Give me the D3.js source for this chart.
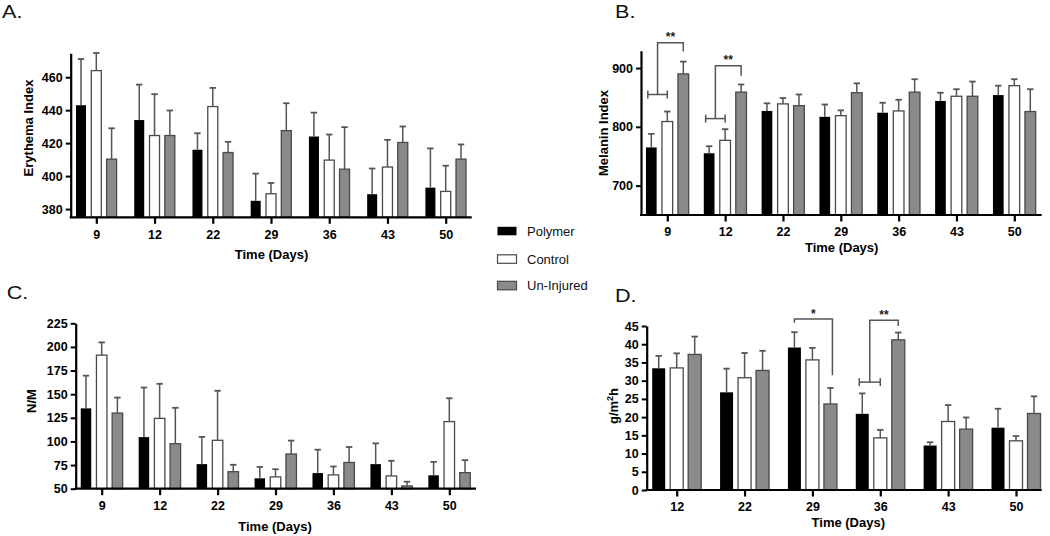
<!DOCTYPE html>
<html><head><meta charset="utf-8">
<script src="https://cdn.jsdelivr.net/npm/d3@7"></script>
<style>
body{margin:0;background:#fff}
svg{display:block}
text{font-family:Arial,"Liberation Sans",Helvetica,sans-serif}
</style>
</head><body>
<svg id="chart" width="1050" height="536"></svg>
<script>
// ---------------- DATA ----------------
const seriesNames = ["Polymer", "Control", "Un-Injured"];
const daysABC = [9, 12, 22, 29, 36, 43, 50];
const daysD = [12, 22, 29, 36, 43, 50];

// A. Erythema Index
const erythemaPolymer    = [443, 434, 416, 385, 424, 389, 393];
const erythemaPolymerErr = [471, 455.5, 426, 401.5, 438.5, 404.6, 416.8];
const erythemaControl    = [464, 424.6, 442.2, 389.3, 409.7, 405.5, 390.7];
const erythemaControlErr = [474.7, 449.7, 453.5, 395.8, 425.2, 422, 406.3];
const erythemaUninj      = [410.3, 424.6, 414.3, 427.6, 404.2, 420.4, 410.3];
const erythemaUninjErr   = [429, 439.8, 420.8, 444.2, 429.7, 430.1, 419.2];
const erythemaTicks = [380, 400, 420, 440, 460];

// B. Melanin Index
const melaninPolymer    = [765, 755, 827, 817, 824, 844, 854];
const melaninPolymerErr = [788, 767, 840, 838, 841, 858, 870];
const melaninControl    = [809, 777, 839, 819, 827, 852, 870];
const melaninControlErr = [826, 796, 849, 828, 846, 864, 881];
const melaninUninj      = [890, 859, 836, 858, 859, 852, 826];
const melaninUninjErr   = [911, 872, 855, 874, 881, 877, 864];
const melaninTicks = [700, 800, 900];
// significance brackets: day, lower bar level, top level, right end, label
const melaninSigDays   = [9, 12];
const melaninSigLow    = [855, 814];
const melaninSigTop    = [943, 904];
const melaninSigRight  = [928, 887];
const melaninSigLabels = ["**", "**"];

// C. N/M
const nmPolymer    = [135, 104.6, 76, 61, 66.5, 76, 64.2];
const nmPolymerErr = [169.6, 157, 104.8, 73, 91.3, 98, 78.4];
const nmControl    = [191.3, 124.4, 101.2, 62.5, 64.6, 63.5, 121];
const nmControlErr = [204.8, 161, 153.6, 70.6, 73.5, 79.5, 145.7];
const nmUninj      = [130, 97.6, 68, 86.7, 77.8, 52.9, 67];
const nmUninjErr   = [146.4, 135.6, 75.3, 100.9, 94.1, 57.4, 80.2];
const nmTicks = [50, 75, 100, 125, 150, 175, 200, 225];

// D. TEWL g/m2h
const tewlPolymer    = [33.4, 26.8, 39.1, 20.9, 12.2, 17.1];
const tewlPolymerErr = [36.8, 33.3, 43.3, 26.5, 13.1, 22.3];
const tewlControl    = [33.5, 30.8, 35.7, 14.3, 18.8, 13.5];
const tewlControlErr = [37.5, 37.6, 39, 16.5, 23.3, 14.8];
const tewlUninj      = [37.2, 32.8, 23.6, 41.2, 16.7, 21];
const tewlUninjErr   = [42.1, 38.2, 28, 43.2, 19.9, 25.7];
const tewlTicks = [0, 5, 10, 15, 20, 25, 30, 35, 40, 45];
// bracket day 29: black (short leg) to gray (long leg)
const tewlSig29 = {day: 29, top: 46.9, leftEnd: 45.9, rightEnd: 31.5, label: "*"};
// bracket day 36: black/control pair to gray
const tewlSig36 = {day: 36, low: 29.6, top: 46.6, rightEnd: 45, label: "**"};

// ---------------- DRAWING ----------------
const svg = d3.select("#chart");
const fills   = ["#000000", "#ffffff", "#8a8a8a"];
const strokes = ["#000000", "#4a4a4a", "#4a4a4a"];
const errColor = "#555555";
const tickFont = 12.5;

function drawPanel(cfg) {
  const g = svg.append("g");
  const y = d3.scaleLinear().domain(cfg.domain).range([cfg.yBot, cfg.yTop]);
  const xc = d3.scalePoint().domain(cfg.days).range([cfg.c0, cfg.c1]);
  const xs = d3.scalePoint().domain(seriesNames).range([-cfg.off, cfg.off]);

  // bars
  seriesNames.forEach((s, si) => {
    const vals = cfg.values[si], errs = cfg.errs[si];
    const gs = g.append("g");
    gs.selectAll("rect").data(cfg.days).join("rect")
      .attr("x", (d) => xc(d) + xs(s) - cfg.bw / 2)
      .attr("y", (d, i) => y(vals[i]))
      .attr("width", cfg.bw)
      .attr("height", (d, i) => y(cfg.domain[0]) - y(vals[i]))
      .attr("fill", fills[si])
      .attr("stroke", strokes[si])
      .attr("stroke-width", si === 0 ? 0 : 1.3);
    gs.selectAll("line.err").data(cfg.days).join("line")
      .attr("class", "err")
      .attr("x1", (d) => xc(d) + xs(s)).attr("x2", (d) => xc(d) + xs(s))
      .attr("y1", (d, i) => y(vals[i])).attr("y2", (d, i) => y(errs[i]))
      .attr("stroke", errColor).attr("stroke-width", 1.5);
    gs.selectAll("line.cap").data(cfg.days).join("line")
      .attr("class", "cap")
      .attr("x1", (d) => xc(d) + xs(s) - 3.2).attr("x2", (d) => xc(d) + xs(s) + 3.2)
      .attr("y1", (d, i) => y(errs[i])).attr("y2", (d, i) => y(errs[i]))
      .attr("stroke", errColor).attr("stroke-width", 1.8);
  });

  // y axis
  const ya = g.append("g").attr("transform", `translate(${cfg.x0},0)`)
    .call(d3.axisLeft(y).tickValues(cfg.yticks).tickSize(5).tickPadding(3).tickSizeOuter(0));
  ya.select(".domain").attr("stroke", "#000").attr("stroke-width", 2.2);
  ya.selectAll(".tick line").attr("stroke", "#000").attr("stroke-width", 2);
  ya.selectAll(".tick text").attr("font-size", tickFont).attr("font-weight", "bold").attr("fill", "#000")
    .attr("font-family", "Arial, 'Liberation Sans', sans-serif");

  // x axis
  const xa = g.append("g").attr("transform", `translate(0,${cfg.yBot})`)
    .call(d3.axisBottom(xc).tickSize(6.5).tickPadding(6));
  xa.select(".domain").remove();
  xa.selectAll(".tick line").attr("stroke", "#000").attr("stroke-width", 2.2);
  xa.selectAll(".tick text").attr("font-size", tickFont).attr("font-weight", "bold").attr("fill", "#000")
    .attr("font-family", "Arial, 'Liberation Sans', sans-serif");
  g.append("line").attr("x1", cfg.x0 - 1).attr("x2", cfg.x1)
    .attr("y1", cfg.yBot).attr("y2", cfg.yBot)
    .attr("stroke", "#000").attr("stroke-width", 2.2);

  // titles
  g.append("text").attr("x", cfg.xt[0]).attr("y", cfg.xt[1])
    .attr("text-anchor", "middle").attr("font-size", 13).attr("font-weight", "bold")
    .text("Time (Days)");
  const yt = g.append("text")
    .attr("transform", `translate(${cfg.yt[0]},${cfg.yt[1]}) rotate(-90)`)
    .attr("text-anchor", "middle").attr("font-size", 13).attr("font-weight", "bold");
  if (cfg.ylabelSup) {
    yt.append("tspan").text(cfg.ylabel[0]);
    yt.append("tspan").attr("font-size", 9).attr("dy", -5).text(cfg.ylabel[1]);
    yt.append("tspan").attr("dy", 5).text(cfg.ylabel[2]);
  } else {
    yt.text(cfg.ylabel);
  }
  g.append("text").attr("x", cfg.letter[0]).attr("y", cfg.letter[1])
    .attr("font-size", 18).attr("fill", "#111")
    .attr("transform", `translate(${cfg.letter[0]},0) scale(1.2,1) translate(${-cfg.letter[0]},0)`)
    .text(cfg.letter[2]);

  return {g, y, xc, xs};
}

function bracketLine(g, pts) {
  g.append("path").attr("d", d3.line()(pts))
    .attr("fill", "none").attr("stroke", "#555").attr("stroke-width", 1.5);
}
function stars(g, x, yy, label) {
  g.append("text").attr("x", x).attr("y", yy).attr("text-anchor", "middle")
    .attr("font-size", 12).attr("font-weight", "bold").attr("fill", "#222").text(label);
}

// Panel A
drawPanel({
  days: daysABC, domain: [375, 474.5], yTop: 53.3, yBot: 217.3,
  x0: 70.7, x1: 471.7, c0: 96.3, c1: 445.7, off: 15.3, bw: 10,
  yticks: erythemaTicks,
  values: [erythemaPolymer, erythemaControl, erythemaUninj],
  errs: [erythemaPolymerErr, erythemaControlErr, erythemaUninjErr],
  xt: [271.5, 259], yt: [32.5, 128], ylabel: "Erythema Index",
  letter: [2, 18.3, "A."]
});

// Panel B
const pB = drawPanel({
  days: daysABC, domain: [650, 929.5], yTop: 50.7, yBot: 215,
  x0: 641, x1: 1041.7, c0: 667.3, c1: 1014.3, off: 16, bw: 10.7,
  yticks: melaninTicks,
  values: [melaninPolymer, melaninControl, melaninUninj],
  errs: [melaninPolymerErr, melaninControlErr, melaninUninjErr],
  xt: [841.7, 252.3], yt: [607.8, 133], ylabel: "Melanin Index",
  letter: [615, 18.3, "B."]
});
melaninSigDays.forEach((d, i) => {
  const xb = pB.xc(d) + pB.xs("Polymer") - 3.5, xw = pB.xc(d) + pB.xs("Control");
  const xg = pB.xc(d) + pB.xs("Un-Injured");
  const xm = (xb + xw) / 2;
  const yl = pB.y(melaninSigLow[i]), yt = pB.y(melaninSigTop[i]), yr = pB.y(melaninSigRight[i]);
  bracketLine(pB.g, [[xb, yl], [xw, yl]]);
  bracketLine(pB.g, [[xb, yl - 4], [xb, yl + 4]]);
  bracketLine(pB.g, [[xw, yl - 4], [xw, yl + 4]]);
  bracketLine(pB.g, [[xm, yl], [xm, yt], [xg, yt], [xg, yr]]);
  stars(pB.g, (xm + xg) / 2, yt - 2, melaninSigLabels[i]);
});

// Panel C
drawPanel({
  days: daysABC, domain: [50, 225], yTop: 323.3, yBot: 488.7,
  x0: 75.7, x1: 476, c0: 101.7, c1: 449.3, off: 15.7, bw: 10.5,
  yticks: nmTicks,
  values: [nmPolymer, nmControl, nmUninj],
  errs: [nmPolymerErr, nmControlErr, nmUninjErr],
  xt: [275, 530.6], yt: [36.2, 401], ylabel: "N/M",
  letter: [6.7, 299.3, "C."]
});

// Panel D
const pD = drawPanel({
  days: daysD, domain: [0, 45], yTop: 326, yBot: 490,
  x0: 646.7, x1: 1041.7, c0: 676.7, c1: 1016, off: 18, bw: 13,
  yticks: tewlTicks,
  values: [tewlPolymer, tewlControl, tewlUninj],
  errs: [tewlPolymerErr, tewlControlErr, tewlUninjErr],
  xt: [848.3, 527.3], yt: [617.8, 406], ylabel: ["g/m", "2", "h"], ylabelSup: true,
  letter: [615, 301.7, "D."]
});
{
  const s = tewlSig29;
  const xb = pD.xc(s.day) + pD.xs("Polymer"), xg = pD.xc(s.day) + pD.xs("Un-Injured") + 2;
  const yt = pD.y(s.top);
  bracketLine(pD.g, [[xb, pD.y(s.leftEnd)], [xb, yt], [xg, yt], [xg, pD.y(s.rightEnd)]]);
  stars(pD.g, (xb + xg) / 2, yt - 1.5, s.label);
}
{
  const s = tewlSig36;
  const xb = pD.xc(s.day) + pD.xs("Polymer") - 3, xw = pD.xc(s.day) + pD.xs("Control");
  const xg = pD.xc(s.day) + pD.xs("Un-Injured");
  const xm = (xb + xw) / 2;
  const yl = pD.y(s.low), yt = pD.y(s.top);
  bracketLine(pD.g, [[xb, yl], [xw, yl]]);
  bracketLine(pD.g, [[xb, yl - 4], [xb, yl + 4]]);
  bracketLine(pD.g, [[xw, yl - 4], [xw, yl + 4]]);
  bracketLine(pD.g, [[xm, yl], [xm, yt], [xg, yt], [xg, pD.y(s.rightEnd)]]);
  stars(pD.g, (xm + xg) / 2, yt - 1.5, s.label);
}

// Legend
const legendY = [231, 259, 285.5];
const leg = svg.append("g");
seriesNames.forEach((s, i) => {
  leg.append("rect").attr("x", 497.5).attr("y", legendY[i] - 4.2).attr("width", 19).attr("height", 8.5)
    .attr("fill", fills[i]).attr("stroke", strokes[i]).attr("stroke-width", i === 0 ? 0 : 1.2);
  leg.append("text").attr("x", 527).attr("y", legendY[i] + 4.6).attr("font-size", 13)
    .attr("fill", "#111").text(s);
});
</script>
</body></html>
